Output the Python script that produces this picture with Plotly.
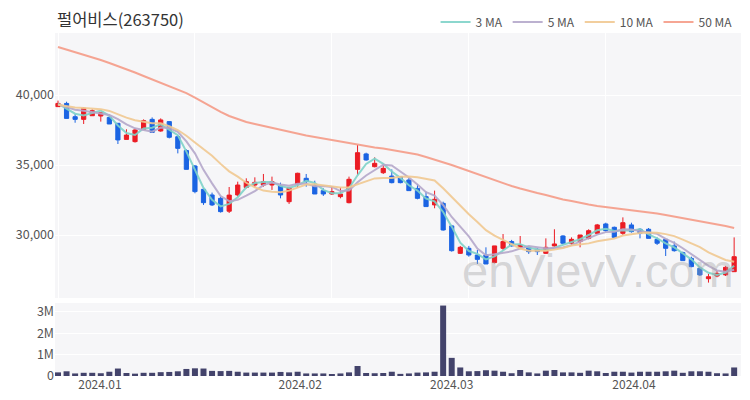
import plotly.graph_objects as go
from plotly.subplots import make_subplots
import pandas as pd

title_text = "펄어비스(263750)"

# trading-day index (Dec 21 2023 .. Apr 2024)
x_idx = list(range(80))

open_ = [39170, 39400, 38450, 38260, 38520, 38500, 38400, 37980, 36830, 36670,
         37550, 38260, 37430, 38100, 37020, 36030, 34930, 33260, 32860, 32620,
         31700, 32860, 33400, 33570, 33570, 33570, 33500, 32380, 33640, 34050,
         33570, 33170, 32930, 32740, 32310, 34690, 35790, 34880, 34450, 34210,
         34170, 33930, 33330, 32740, 32150, 32260, 30650, 28690, 29050, 28570,
         28570, 28030, 29050, 29530, 29120, 29100, 28980, 28690, 29220, 29930,
         29410, 29530, 29760, 30120, 30790, 30550, 30120, 30720, 30410, 30410,
         29690, 29690, 29220, 28740, 28330, 27620, 26880, 27070, 27150, 27380]
high_ = [39600, 39520, 38640, 39120, 38980, 38740, 38600, 37980, 37550, 37620,
         38260, 38400, 38330, 38100, 37140, 36120, 35000, 33340, 33030, 32740,
         33430, 33810, 34050, 34120, 34360, 34170, 33740, 33400, 34450, 34360,
         33880, 33340, 33500, 33400, 34170, 36430, 35880, 35550, 35000, 34690,
         34210, 34120, 33640, 33100, 33170, 32380, 30720, 29220, 29220, 28930,
         29120, 29220, 30070, 29650, 29930, 29170, 29050, 29760, 30410, 29980,
         29830, 30000, 30410, 30790, 30880, 30600, 31260, 30880, 30480, 30500,
         29830, 29690, 29530, 28810, 28450, 27690, 27220, 27450, 27790, 29830]
low_ = [39170, 38330, 38020, 37930, 38500, 38100, 37930, 36500, 36830, 36600,
        37500, 37330, 37380, 36900, 35830, 34690, 32980, 32150, 32070, 31600,
        31570, 32740, 33330, 33400, 33450, 33220, 32620, 32220, 33400, 33450,
        32930, 32790, 32860, 32620, 32260, 34290, 35310, 34830, 34360, 33690,
        33690, 33170, 32550, 32030, 31910, 30310, 28810, 28650, 28450, 27930,
        27930, 27980, 28930, 29170, 29050, 28650, 28570, 28650, 29170, 29360,
        29220, 29120, 29690, 30070, 30240, 29830, 30000, 30170, 29760, 29760,
        29290, 28500, 28810, 28170, 27690, 27070, 26600, 26980, 27070, 27380]
close_ = [39400, 38330, 38260, 39050, 38880, 38740, 37930, 36790, 37140, 37500,
          38170, 37330, 38220, 36980, 36190, 34690, 33100, 32310, 32150, 31670,
          32850, 33570, 33810, 33760, 33810, 33810, 32860, 33400, 34410, 33810,
          32930, 32930, 33100, 32930, 33980, 35880, 35360, 35120, 34760, 33740,
          33740, 33170, 32620, 32030, 32550, 30360, 28880, 29120, 28570, 28260,
          27930, 29220, 29530, 29220, 29290, 28810, 28810, 29120, 29360, 29410,
          29690, 30000, 30310, 30720, 30310, 29830, 30880, 30240, 30120, 29760,
          29410, 29050, 28880, 28170, 27740, 27150, 27020, 27260, 27690, 28450]

# closes before the window, needed for the short moving averages
prior_close = [39400, 39250, 39300, 39150, 39350, 39200, 39300, 39450, 39300]

ma50 = [43430, 43250, 43070, 42890, 42710, 42500, 42290, 42070, 41860, 41610,
        41360, 41110, 40890, 40640, 40390, 40140, 39820, 39500, 39140, 38790,
        38500, 38290, 38070, 37930, 37790, 37640, 37500, 37360, 37210, 37110,
        37000, 36890, 36790, 36680, 36570, 36460, 36320, 36250, 36180, 36070,
        36000, 35890, 35750, 35570, 35390, 35210, 35000, 34790, 34570, 34390,
        34140, 33930, 33710, 33500, 33320, 33140, 33000, 32860, 32680, 32540,
        32430, 32290, 32180, 32070, 32000, 31890, 31820, 31750, 31680, 31610,
        31540, 31430, 31320, 31210, 31110, 31000, 30890, 30750, 30640, 30500]

volume = [0.17, 0.22, 0.12, 0.15, 0.15, 0.13, 0.20, 0.35, 0.14, 0.11,
          0.15, 0.15, 0.18, 0.19, 0.22, 0.33, 0.36, 0.35, 0.24, 0.23,
          0.24, 0.20, 0.16, 0.16, 0.16, 0.16, 0.19, 0.17, 0.20, 0.12,
          0.12, 0.12, 0.08, 0.12, 0.17, 0.47, 0.14, 0.13, 0.14, 0.20,
          0.10, 0.12, 0.16, 0.17, 0.20, 3.30, 0.85, 0.40, 0.22, 0.23,
          0.27, 0.25, 0.20, 0.13, 0.28, 0.17, 0.12, 0.25, 0.28, 0.17,
          0.17, 0.15, 0.25, 0.22, 0.14, 0.20, 0.20, 0.16, 0.20, 0.20,
          0.20, 0.22, 0.25, 0.15, 0.22, 0.22, 0.20, 0.13, 0.12, 0.40]
volume = [v * 1e6 for v in volume]

month_tick_pos = [4.9, 28.3, 46, 67.3]
month_tick_text = ["2024.01", "2024.02", "2024.03", "2024.04"]
grid_pos = [0, 16, 32, 48, 64]

price_ticks = [30000, 35000, 40000]
vol_ticks = [0, 1e6, 2e6, 3e6]
vol_tick_text = ["0", "1M", "2M", "3M"]

full_close = pd.Series(prior_close + close_)
n_prior = len(prior_close)
ma3 = full_close.rolling(3).mean().tolist()[n_prior:]
ma5 = full_close.rolling(5).mean().tolist()[n_prior:]
ma10 = full_close.rolling(10).mean().tolist()[n_prior:]

FONT = "Noto Sans CJK KR"
RED = "#eb1c24"
BLUE = "#1b64e3"

fig = make_subplots(rows=2, cols=1, shared_xaxes=True)

fig.add_trace(go.Candlestick(
    x=x_idx, open=open_, high=high_, low=low_, close=close_,
    increasing=dict(line=dict(color=RED, width=1), fillcolor=RED),
    decreasing=dict(line=dict(color=BLUE, width=1), fillcolor=BLUE),
    showlegend=False, whiskerwidth=0), row=1, col=1)

ma_specs = [("3 MA", ma3, "#7fd3c9"), ("5 MA", ma5, "#b5a8cb"),
            ("10 MA", ma10, "#f1c992"), ("50 MA", ma50, "#f59c88")]
for name, vals, col in ma_specs:
    fig.add_trace(go.Scatter(x=x_idx, y=vals, mode="lines", name=name,
                             line=dict(color=col, width=2), opacity=0.9),
                  row=1, col=1)

fig.add_trace(go.Bar(x=x_idx, y=volume, marker=dict(color="#43436b", line=dict(width=0)),
                     showlegend=False), row=2, col=1)

H_TOP, H_BOT = 33, 376
span = H_BOT - H_TOP

def py(px):
    return (H_BOT - px) / span

fig.update_layout(
    width=750, height=400,
    margin=dict(l=55, r=9, t=H_TOP, b=400 - H_BOT, autoexpand=False),
    paper_bgcolor="white", plot_bgcolor="#f6f6f8",
    font=dict(family=FONT, size=12, color="#555555"),
    title=dict(text=title_text, x=57 / 750, xanchor="left", y=1 - 20 / 400, yanchor="middle",
               font=dict(family=FONT, size=16.5, color="#333333")),
    legend=dict(orientation="h", x=0.995, xanchor="right", y=py(22), yanchor="middle",
                font=dict(family=FONT, size=12, color="#555555"),
                bgcolor="rgba(0,0,0,0)", itemwidth=30, tracegroupgap=0),
    bargap=0.3, boxgap=0.3,
    showlegend=True,
    hovermode=False,
)

fig.update_xaxes(range=[-0.35, 79.8], showline=False, zeroline=False, automargin=False)
fig.update_yaxes(automargin=False)
fig.update_layout(
    xaxis=dict(domain=[0, 1], tickvals=grid_pos, showticklabels=False, showgrid=True,
               gridcolor="white", gridwidth=1, rangeslider=dict(visible=False), ticks=""),
    xaxis2=dict(domain=[0, 1], tickvals=month_tick_pos, ticktext=month_tick_text,
                showgrid=False, ticks="", tickfont=dict(size=12, color="#555555")),
    yaxis=dict(domain=[py(298), 1.0], range=[25500, 44430], tickvals=price_ticks,
               tickformat=",", showgrid=True, gridcolor="white", gridwidth=1,
               zeroline=False, ticks="", tickfont=dict(size=12.5, color="#555555")),
    yaxis2=dict(domain=[0, py(303)], range=[0, 3.42e6], tickvals=vol_ticks,
                ticktext=vol_tick_text, showgrid=True, gridcolor="white", gridwidth=1,
                zeroline=False, ticks="", tickfont=dict(size=12.5, color="#555555")),
)

fig.add_annotation(text="enVievV.com", xref="paper", yref="paper",
                   x=(598 - 55) / 686, y=py(270), xanchor="center", yanchor="middle",
                   showarrow=False,
                   font=dict(family="Liberation Sans", size=47, color="rgba(160,160,160,0.4)"))

fig.write_html("out.html", config={"displayModeBar": False},
               post_script="document.body.style.margin='0px';document.body.style.overflow='hidden';")
